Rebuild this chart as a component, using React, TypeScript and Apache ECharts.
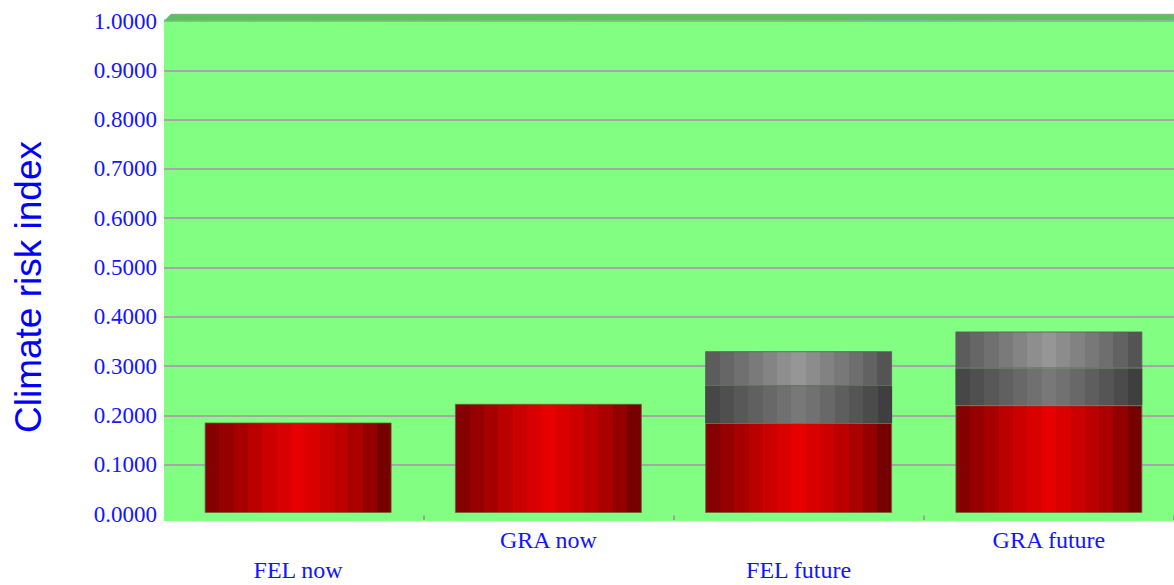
import React, { useEffect, useRef } from "react";
import * as echarts from "echarts";

const categories = ["FEL now", "GRA now", "FEL future", "GRA future"];
const redValues = [0.184, 0.222, 0.183, 0.219];
const darkGreyValues = [null, null, 0.075, 0.075];
const lightGreyValues = [null, null, 0.071, 0.075];
const yMin = 0;
const yMax = 1;
const yStep = 0.1;
const yTitle = "Climate risk index";

const redBands = ["#850000", "#960000", "#a80000", "#bb0000", "#cc0000", "#d80000", "#e60000", "#da0000", "#cc0000", "#bc0000", "#aa0000", "#940000", "#760000"];
const lightBands = ["#5c5c5c", "#666666", "#707070", "#7a7a7a", "#848484", "#8e8e8e", "#969696", "#8c8c8c", "#828282", "#787878", "#6e6e6e", "#626262", "#545454"];
const darkBands = ["#474747", "#4f4f4f", "#585858", "#606060", "#686868", "#707070", "#787878", "#717171", "#686868", "#5e5e5e", "#555555", "#4b4b4b", "#3f3f3f"];

function banded(colors: string[]) {
  const stops: { offset: number; color: string }[] = [];
  const n = colors.length;
  colors.forEach((c, i) => {
    stops.push({ offset: i / n, color: c });
    stops.push({ offset: (i + 1) / n, color: c });
  });
  return new echarts.graphic.LinearGradient(0, 0, 1, 0, stops);
}

export default function App() {
  const ref = useRef<HTMLDivElement>(null);
  useEffect(() => {
    if (!ref.current) return;
    const chart = echarts.init(ref.current, null, { renderer: "svg" });
    const barCommon = {
      type: "bar",
      stack: "risk",
      xAxisIndex: 1,
      yAxisIndex: 1,
      barWidth: 187,
      z: 3,
    };
    chart.setOption({
      animation: false,
      backgroundColor: "#ffffff",
      graphic: [
        {
          type: "rect",
          z: -10,
          shape: { x: 164, y: 19, width: 1010, height: 502 },
          style: { fill: "#82ff82" },
        },
        {
          type: "rect",
          z: 1,
          shape: { x: 164, y: 512.5, width: 1010, height: 3 },
          style: { fill: "#82ff82" },
        },
        {
          type: "polygon",
          z: 10,
          shape: { points: [[164, 21], [171, 14], [1174, 14], [1174, 20.5]] },
          style: { fill: "#5fbf5f", stroke: "#9cbf9c", lineWidth: 0.5 },
        },
        {
          type: "text",
          x: 28,
          y: 287,
          rotation: Math.PI / 2,
          style: {
            text: yTitle,
            fill: "#0000ff",
            font: "37px 'Liberation Sans', Arial, sans-serif",
            align: "center",
            verticalAlign: "middle",
          },
        },
      ],
      grid: [
        { left: 164, right: 0, top: 21, bottom: 71 },
        { left: 173, right: -2, top: 21, bottom: 71 },
      ],
      xAxis: [
        { gridIndex: 0, type: "value", show: false, min: 0, max: 1 },
        {
          gridIndex: 1,
          type: "category",
          data: categories,
          axisLine: { show: false },
          axisTick: {
            show: true,
            length: 7,
            interval: (i: number) => i !== 0,
            lineStyle: { color: "#a0a0a0", width: 2 },
          },
          axisLabel: {
            interval: 0,
            margin: 12,
            color: "#1414ff",
            fontFamily: "'Liberation Serif', 'Times New Roman', serif",
            fontSize: 24,
            lineHeight: 30,
            formatter: (v: string, i: number) => (i % 2 === 0 ? "\n" + v : v),
          },
          splitLine: { show: false },
        },
      ],
      yAxis: [
        {
          gridIndex: 0,
          type: "value",
          min: yMin,
          max: yMax,
          interval: yStep,
          axisLine: { show: false },
          axisTick: { show: false },
          axisLabel: {
            margin: 7,
            color: "#1414ff",
            fontFamily: "'Liberation Serif', 'Times New Roman', serif",
            fontSize: 23,
            formatter: (v: number) => v.toFixed(4),
          },
          splitLine: { show: true, lineStyle: { color: "#a6a6a6", width: 2 } },
        },
        {
          gridIndex: 1,
          type: "value",
          min: yMin,
          max: yMax,
          interval: yStep,
          show: false,
          splitLine: { show: false },
        },
      ],
      series: [
        {
          ...barCommon,
          name: "red",
          data: redValues,
          itemStyle: { color: banded(redBands), borderColor: "rgba(110,100,60,0.8)", borderWidth: 1 },
        },
        {
          ...barCommon,
          name: "dark grey",
          data: darkGreyValues,
          itemStyle: { color: banded(darkBands), borderWidth: 0 },
        },
        {
          ...barCommon,
          name: "light grey",
          data: lightGreyValues,
          itemStyle: { color: banded(lightBands), borderColor: "rgba(90,90,90,0.8)", borderWidth: 1 },
        },
      ],
    });
    return () => chart.dispose();
  }, []);
  return <div ref={ref} style={{ width: 1174, height: 585, position: "absolute", left: 0, top: 0 }} />;
}
